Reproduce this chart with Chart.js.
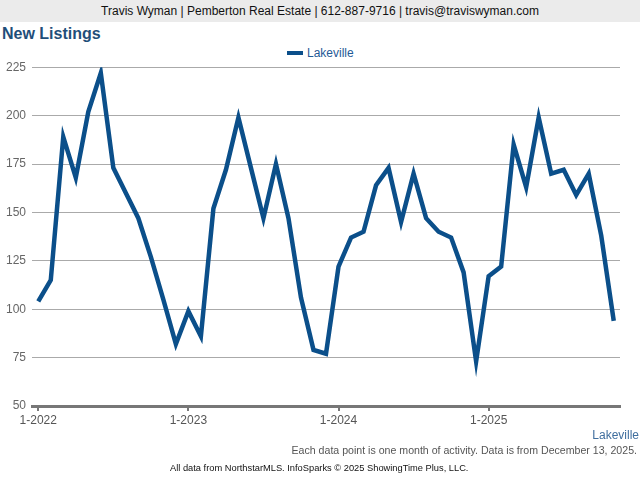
<!DOCTYPE html>
<html>
<head>
<meta charset="utf-8">
<script src="https://cdn.jsdelivr.net/npm/chart.js@4.4.1/dist/chart.umd.min.js"></script>
<style>
  body { margin: 0; width: 640px; height: 480px; background: #fff; font-family: "Liberation Sans", Arial, sans-serif; position: relative; overflow: hidden; }
  #hdr { position: absolute; left: 0; top: 0; width: 640px; height: 22px; background: #ebebeb; color: #111; font-size: 12px; line-height: 22px; text-align: center; }
  #title { position: absolute; left: 2px; top: 25px; font-size: 16px; font-weight: bold; color: #1f4e79; }
  #legend { position: absolute; left: 287px; top: 46px; font-size: 12px; color: #1f5a96; }
  #legend span.sw { display: inline-block; width: 16px; height: 4px; background: #0b4f8a; vertical-align: middle; margin-right: 4px; position: relative; top: -1px; }
  #wrap { position: absolute; left: 0; top: 54px; width: 640px; height: 382px; }
  #place { position: absolute; right: 1px; top: 428px; font-size: 12px; color: #3f6e9e; }
  #note { position: absolute; right: 3px; top: 444px; font-size: 10.6px; color: #555; }
  #src { position: absolute; left: 170px; top: 463px; font-size: 9.3px; color: #111; }
</style>
</head>
<body>
<div id="hdr">Travis Wyman | Pemberton Real Estate | 612-887-9716 | travis@traviswyman.com</div>
<div id="title">New Listings</div>
<div id="legend"><span class="sw"></span>Lakeville</div>
<div id="wrap"><canvas id="myChart"></canvas></div>
<div id="place">Lakeville</div>
<div id="note">Each data point is one month of activity. Data is from December 13, 2025.</div>
<div id="src">All data from NorthstarMLS. InfoSparks © 2025 ShowingTime Plus, LLC.</div>
<script>
const months = [];
for (let y = 2022; y <= 2025; y++) {
  for (let m = 1; m <= 12; m++) {
    if (y === 2025 && m > 11) break;
    months.push(m + "-" + y);
  }
}
const lakeville = [
  104, 115, 189, 168, 202, 222, 173, 160, 147, 127, 105, 82,
  99, 86, 152, 172, 199, 173, 147, 175, 147, 106, 79, 77,
  122, 137, 140, 164, 173, 145, 170, 147, 140, 137, 119, 73,
  117, 122, 185, 163, 199, 170, 172, 159, 170, 138, 94
];
const yTicks = [50, 75, 100, 125, 150, 175, 200, 225];

const ctx = document.getElementById("myChart");
new Chart(ctx, {
  type: "line",
  data: {
    labels: months,
    datasets: [{
      label: "Lakeville",
      data: lakeville,
      borderColor: "#0b4f8a",
      borderWidth: 4.5,
      pointRadius: 0,
      tension: 0,
      fill: false
    }]
  },
  options: {
    responsive: true,
    maintainAspectRatio: false,
    animation: false,
    layout: { padding: { top: 7, right: 20, left: 0, bottom: 0 } },
    plugins: { legend: { display: false }, tooltip: { enabled: false } },
    scales: {
      x: {
        offset: true,
        grid: { offset: false, drawOnChartArea: false, drawTicks: true, tickLength: 5, color: "#777", lineWidth: 2 },
        border: { color: "#777", width: 3 },
        ticks: {
          autoSkip: false,
          maxRotation: 0,
          padding: 2,
          color: "#555",
          font: { family: "Liberation Sans, Arial", size: 12 },
          callback: function (v, i) {
            const l = months[i];
            return l.startsWith("1-") ? l : null;
          }
        },
        afterFit: s => { s.height = 30; }
      },
      y: {
        min: 50,
        max: 225,
        afterBuildTicks: s => { s.ticks = yTicks.map(v => ({ value: v })); },
        grid: { color: "#aaa", lineWidth: 1, drawTicks: false },
        border: { display: false },
        ticks: { padding: 6, color: "#666", font: { family: "Liberation Sans, Arial", size: 12 } },
        afterFit: s => { s.width = 32; }
      }
    }
  }
});
</script>
</body>
</html>
